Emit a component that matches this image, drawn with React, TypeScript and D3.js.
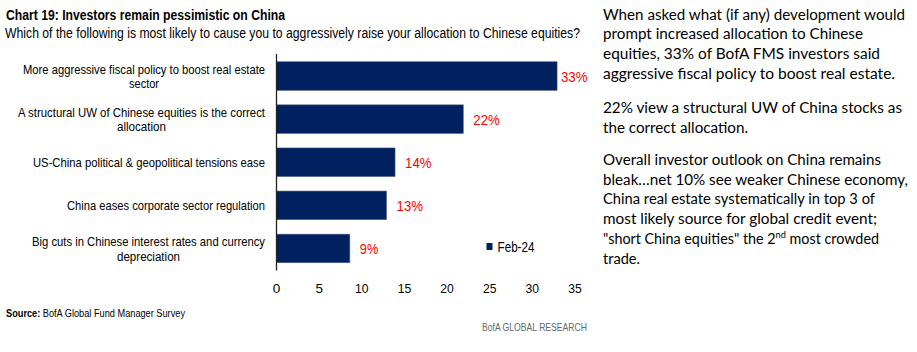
import React from "react";
import * as d3 from "d3";

const categories: string[][] = [
  ["More aggressive fiscal policy to boost real estate", "sector"],
  ["A structural UW of Chinese equities is the correct", "allocation"],
  ["US-China political & geopolitical tensions ease"],
  ["China eases corporate sector regulation"],
  ["Big cuts in Chinese interest rates and currency", "depreciation"],
];
const values: number[] = [32.9, 21.9, 13.9, 12.9, 8.6];
const valueLabels: string[] = ["33%", "22%", "14%", "13%", "9%"];
const ticks: number[] = [0, 5, 10, 15, 20, 25, 30, 35];
const seriesName = "Feb-24";
const title = "Chart 19: Investors remain pessimistic on China";
const subtitle =
  "Which of the following is most likely to cause you to aggressively raise your allocation to Chinese equities?";
const sourceLabel = "Source:";
const sourceText = " BofA Global Fund Manager Survey";
const brand = "BofA GLOBAL RESEARCH";
const paragraphs: string[][] = [
  [
    "When asked what (if any) development would",
    "prompt increased allocation to Chinese",
    "equities, 33% of BofA FMS investors said",
    "aggressive fiscal policy to boost real estate.",
  ],
  ["22% view a structural UW of China stocks as", "the correct allocation."],
  [
    "Overall investor outlook on China remains",
    "bleak\u2026net 10% see weaker Chinese economy,",
    "China real estate systematically in top 3 of",
    "most likely source for global credit event;",
    "\"short China equities\" the 2^nd most crowded",
    "trade.",
  ],
];

// layout: rendered widths of text lines (px), used to emulate the condensed fonts
const TEXT_WIDTH: Record<string, number> = {
  [title]: 279,
  [subtitle]: 575,
  "More aggressive fiscal policy to boost real estate": 242,
  sector: 30,
  "A structural UW of Chinese equities is the correct": 247,
  allocation: 49,
  "US-China political & geopolitical tensions ease": 232,
  "China eases corporate sector regulation": 198,
  "Big cuts in Chinese interest rates and currency": 233,
  depreciation: 63,
  "33%": 26.5,
  "22%": 26.5,
  "14%": 26.5,
  "13%": 26.5,
  "9%": 18.5,
  [seriesName]: 37,
  [brand]: 105,
  "When asked what (if any) development would": 302,
  "prompt increased allocation to Chinese": 260,
  "equities, 33% of BofA FMS investors said": 277,
  "aggressive fiscal policy to boost real estate.": 292,
  "22% view a structural UW of China stocks as": 299,
  "the correct allocation.": 145,
  "Overall investor outlook on China remains": 278,
  "bleak\u2026net 10% see weaker Chinese economy,": 305,
  "China real estate systematically in top 3 of": 272,
  "most likely source for global credit event;": 274,
  "\"short China equities\" the 2^nd most crowded": 276,
  "trade.": 37,
};

const NAVY = "#002060";
const NARROW = "'Liberation Sans', Arial, sans-serif";
const BODY = "Lato, 'Open Sans', sans-serif";

function T(props: any) {
  const { s, children, ...rest } = props;
  const w = TEXT_WIDTH[s];
  return (
    <text {...rest} {...(w ? { textLength: w, lengthAdjust: "spacingAndGlyphs" } : {})}>
      {children ?? s}
    </text>
  );
}

export default function App() {
  const W = 917;
  const H = 352;
  const keys = categories.map((c) => c.join(" "));
  const x = d3.scaleLinear().domain([0, 35]).range([276.5, 575]);
  const y = d3
    .scaleBand<string>()
    .domain(keys)
    .range([54, 270.5])
    .paddingInner(0.337)
    .paddingOuter(0.18);

  const paraStarts = [19.5, 112.8, 165];
  const lineH = 19.7;
  const labelRight = 265;

  return (
    <svg
      width={W}
      height={H}
      viewBox={`0 0 ${W} ${H}`}
      style={{ position: "absolute", left: 0, top: 0, background: "#fff" }}
    >
      <rect width={W} height={H} fill="#fff" />
      <T s={title} x={6} y={20} fontFamily={NARROW} fontWeight="bold" fontSize={14.5} fill="#000" />
      <T s={subtitle} x={5} y={37.5} fontFamily={NARROW} fontSize={14} fill="#000" />

      {/* bars */}
      {values.map((v, i) => (
        <rect
          key={keys[i]}
          x={x(0)}
          y={y(keys[i])}
          width={x(v) - x(0)}
          height={y.bandwidth()}
          fill={NAVY}
          stroke="#4f5f8c"
          strokeWidth={0.6}
        />
      ))}
      {values.map((v, i) => (
        <T
          key={"l" + i}
          s={valueLabels[i]}
          x={Math.min(x(v) + 10, 561)}
          y={(y(keys[i]) as number) + y.bandwidth() / 2 + 5.5}
          fontFamily={NARROW}
          fontSize={14.5}
          fill="#ff0000"
        />
      ))}

      {/* category labels */}
      {categories.map((lines, i) => {
        const cy = (y(keys[i]) as number) + y.bandwidth() / 2;
        const n = lines.length;
        const firstW = TEXT_WIDTH[lines[0]] ?? 200;
        return lines.map((ln, j) => {
          const ly = cy + (j - (n - 1) / 2) * 14.6 + 4.8;
          if (j === 0) {
            return (
              <T
                key={"c" + i + j}
                s={ln}
                x={labelRight}
                y={ly}
                textAnchor="end"
                fontFamily={NARROW}
                fontSize={13.5}
                fill="#000"
              />
            );
          }
          return (
            <T
              key={"c" + i + j}
              s={ln}
              x={labelRight - firstW / 2}
              y={ly}
              textAnchor="middle"
              fontFamily={NARROW}
              fontSize={13.5}
              fill="#000"
            />
          );
        });
      })}

      {/* axis */}
      <line x1={x(0)} x2={x(0)} y1={54} y2={270.5} stroke="#222" strokeWidth={1.3} />
      {ticks.map((t) => (
        <text
          key={"t" + t}
          x={x(t)}
          y={293}
          textAnchor="middle"
          fontFamily={NARROW}
          fontSize={13.5}
          fill="#000"
          {...(t >= 10 ? { textLength: 13.5, lengthAdjust: "spacingAndGlyphs" } : {})}
        >
          {t}
        </text>
      ))}

      {/* legend */}
      <rect x={486.5} y={243} width={6} height={7} fill={NAVY} />
      <T s={seriesName} x={497.5} y={251.5} fontFamily={NARROW} fontSize={14} fill="#000" />

      {/* source */}
      <text
        x={6}
        y={316.5}
        fontFamily={NARROW}
        fontSize={10.5}
        fill="#000"
        textLength={179}
        lengthAdjust="spacingAndGlyphs"
      >
        <tspan fontWeight="bold">{sourceLabel}</tspan>
        {sourceText}
      </text>
      <T s={brand} x={482} y={331} fontFamily={NARROW} fontSize={11} fill="#666" />

      {/* commentary */}
      {paragraphs.map((para, p) =>
        para.map((ln, k) => {
          const yy = paraStarts[p] + k * lineH;
          if (ln.includes("^")) {
            const [a, rest] = ln.split("^");
            const sup = rest.slice(0, 2);
            const b = rest.slice(2);
            return (
              <T key={"p" + p + k} s={ln} x={603} y={yy} fontFamily={BODY} fontSize={15.5} fill="#000">
                {a}
                <tspan dy={-6} fontSize={10}>
                  {sup}
                </tspan>
                <tspan dy={6}>{b}</tspan>
              </T>
            );
          }
          return <T key={"p" + p + k} s={ln} x={603} y={yy} fontFamily={BODY} fontSize={15.5} fill="#000" />;
        })
      )}
    </svg>
  );
}
